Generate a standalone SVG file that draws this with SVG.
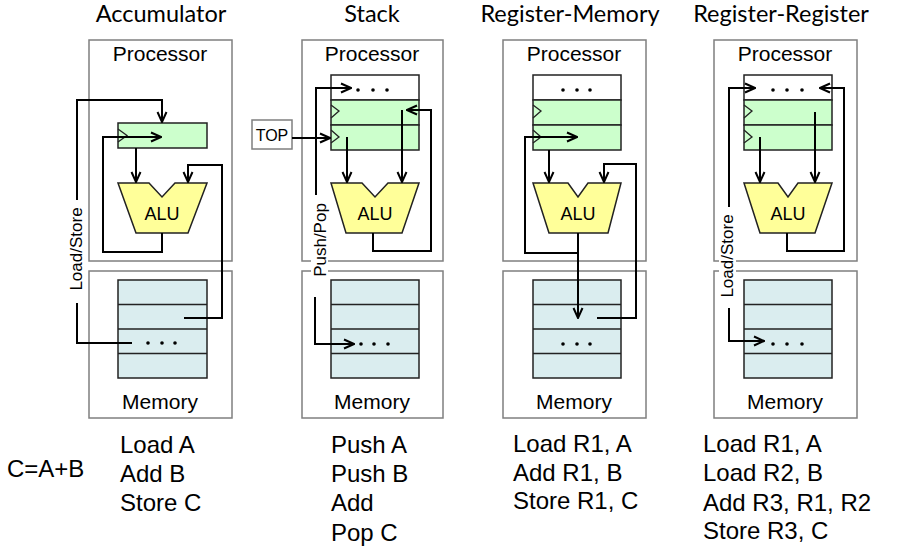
<svg xmlns="http://www.w3.org/2000/svg" width="910" height="553" viewBox="0 0 910 553">
<style>
  .title { font-family: Lato, "Liberation Sans", sans-serif; font-size: 23.5px; fill: #000; text-anchor: middle; }
  .lbl { font-family: "Liberation Sans", Arial, sans-serif; font-size: 21px; fill: #000; text-anchor: middle; }
  .alu-t { font-family: "Liberation Sans", Arial, sans-serif; font-size: 18px; fill: #000; text-anchor: middle; }
  .side { font-family: "Liberation Sans", Arial, sans-serif; font-size: 17px; fill: #000; text-anchor: middle; dominant-baseline: central; }
  .code { font-family: "Liberation Sans", Arial, sans-serif; font-size: 24px; fill: #000; }
  .box { fill: #fff; stroke: #7f7f7f; stroke-width: 1.5; }
  .reg { fill: #ccffcc; stroke: #222; stroke-width: 1.5; }
  .regw { fill: #fff; stroke: #222; stroke-width: 1.5; }
  .mem { fill: #daedef; stroke: #222; stroke-width: 1.5; }
  .sep { stroke: #222; stroke-width: 1.5; fill: none; }
  .clk { stroke: #222; stroke-width: 1.3; fill: none; }
  .alu { fill: #ffff99; stroke: #222; stroke-width: 1.5; }
  .dot { fill: #000; }
  .w { fill: #fff; stroke: none; }
  .c { fill: none; stroke: #000; stroke-width: 2; }
  .ca { fill: none; stroke: #000; stroke-width: 2; marker-end: url(#arr); }
</style>
<defs>
  <marker id="arr" viewBox="0 0 12 12" refX="11" refY="6" markerWidth="12" markerHeight="12" markerUnits="userSpaceOnUse" orient="auto">
    <path d="M1,1.5 L11,6 L1,10.5" fill="none" stroke="#000" stroke-width="2"/>
  </marker>
</defs>
<rect width="910" height="553" fill="#fff"/>

<!-- Titles -->
<g id="titles">
  <text class="title" x="161" y="22">Accumulator</text>
  <text class="title" x="372" y="22">Stack</text>
  <text class="title" x="570" y="22">Register-Memory</text>
  <text class="title" x="781" y="22">Register-Register</text>
</g>

<!-- Column 1: Accumulator -->
<g id="acc-processor">
  <rect class="box" x="89" y="40" width="143" height="221"/>
  <text class="lbl" x="160" y="61">Processor</text>
</g>
<g id="acc-memory">
  <rect class="box" x="89" y="271" width="143" height="147"/>
  <text class="lbl" x="160" y="409">Memory</text>
  <rect class="mem" x="118" y="280" width="89" height="98"/>
  <path class="sep" d="M118,304.5 H207 M118,329 H207 M118,353.5 H207"/>
  <circle class="dot" cx="148" cy="343" r="1.8"/><circle class="dot" cx="162" cy="343" r="1.8"/><circle class="dot" cx="175" cy="343" r="1.8"/>
</g>
<g id="acc-register">
  <rect class="reg" x="118" y="123" width="89" height="25"/>
  <polyline class="clk" points="118,129 127,135.5 118,142"/>
</g>
<g id="acc-alu">
  <polygon class="alu" points="118,183 149,183 162,197 175,183 207,183 188,233 136,233"/>
  <text class="alu-t" x="162" y="220">ALU</text>
</g>

<!-- Column 2: Stack -->
<g id="stack-processor">
  <rect class="box" x="302" y="40" width="141" height="221"/>
  <text class="lbl" x="372" y="61">Processor</text>
</g>
<g id="stack-memory">
  <rect class="box" x="302" y="271" width="141" height="147"/>
  <text class="lbl" x="372" y="409">Memory</text>
  <rect class="mem" x="331" y="280" width="88" height="98"/>
  <path class="sep" d="M331,304.5 H419 M331,329 H419 M331,353.5 H419"/>
  <circle class="dot" cx="361" cy="344" r="1.8"/><circle class="dot" cx="374" cy="344" r="1.8"/><circle class="dot" cx="388" cy="344" r="1.8"/>
</g>
<g id="stack-registers">
  <rect class="regw" x="331" y="75" width="88" height="25"/>
  <rect class="reg" x="331" y="100" width="88" height="25"/>
  <rect class="reg" x="331" y="125" width="88" height="25"/>
  <polyline class="clk" points="331,105 339,111 331,118"/>
  <polyline class="clk" points="331,130 339,137 331,143"/>
  <circle class="dot" cx="358" cy="90" r="1.8"/><circle class="dot" cx="373" cy="90" r="1.8"/><circle class="dot" cx="387" cy="90" r="1.8"/>
</g>
<g id="stack-alu">
  <polygon class="alu" points="331,183 362,183 375,197 388,183 419,183 402,233 346,233"/>
  <text class="alu-t" x="375" y="220">ALU</text>
</g>
<g id="stack-top">
  <rect x="252" y="120" width="40" height="29" fill="#fff" stroke="#7f7f7f" stroke-width="1.5"/>
  <text x="272" y="141" font-family="Liberation Sans, Arial, sans-serif" font-size="16" text-anchor="middle">TOP</text>
</g>

<!-- Column 3: Register-Memory -->
<g id="regmem-processor">
  <rect class="box" x="503" y="40" width="143" height="221"/>
  <text class="lbl" x="574" y="61">Processor</text>
</g>
<g id="regmem-memory">
  <rect class="box" x="503" y="271" width="143" height="147"/>
  <text class="lbl" x="574" y="409">Memory</text>
  <rect class="mem" x="533" y="280" width="88" height="98"/>
  <path class="sep" d="M533,304.5 H621 M533,329 H621 M533,353.5 H621"/>
  <circle class="dot" cx="563" cy="344" r="1.8"/><circle class="dot" cx="577" cy="344" r="1.8"/><circle class="dot" cx="590" cy="344" r="1.8"/>
</g>
<g id="regmem-registers">
  <rect class="regw" x="533" y="75" width="88" height="25"/>
  <rect class="reg" x="533" y="100" width="88" height="25"/>
  <rect class="reg" x="533" y="125" width="88" height="25"/>
  <polyline class="clk" points="533,105 541,111 533,118"/>
  <polyline class="clk" points="533,130 541,137 533,143"/>
  <circle class="dot" cx="563" cy="90" r="1.8"/><circle class="dot" cx="577" cy="90" r="1.8"/><circle class="dot" cx="590" cy="90" r="1.8"/>
</g>
<g id="regmem-alu">
  <polygon class="alu" points="533,183 568,183 578,197 588,183 621,183 608,233 549,233"/>
  <text class="alu-t" x="578" y="220">ALU</text>
</g>

<!-- Column 4: Register-Register -->
<g id="regreg-processor">
  <rect class="box" x="714" y="40" width="143" height="221"/>
  <text class="lbl" x="785" y="61">Processor</text>
</g>
<g id="regreg-memory">
  <rect class="box" x="714" y="271" width="143" height="147"/>
  <text class="lbl" x="785" y="409">Memory</text>
  <rect class="mem" x="744" y="280" width="88" height="98"/>
  <path class="sep" d="M744,304.5 H832 M744,329 H832 M744,353.5 H832"/>
  <circle class="dot" cx="773" cy="344" r="1.8"/><circle class="dot" cx="787" cy="344" r="1.8"/><circle class="dot" cx="802" cy="344" r="1.8"/>
</g>
<g id="regreg-registers">
  <rect class="regw" x="744" y="75" width="88" height="25"/>
  <rect class="reg" x="744" y="100" width="88" height="25"/>
  <rect class="reg" x="744" y="125" width="88" height="25"/>
  <polyline class="clk" points="744,105 752,111 744,118"/>
  <polyline class="clk" points="744,130 752,137 744,143"/>
  <circle class="dot" cx="773" cy="90" r="1.8"/><circle class="dot" cx="787" cy="90" r="1.8"/><circle class="dot" cx="802" cy="90" r="1.8"/>
</g>
<g id="regreg-alu">
  <polygon class="alu" points="744,183 778,183 788,197 798,183 832,183 815,233 760,233"/>
  <text class="alu-t" x="788" y="220">ALU</text>
</g>

<!-- Connectors -->
<g id="connectors">
  <!-- Accumulator -->
  <path class="ca" d="M77,200 V100 H162 V122"/>
  <path class="c" d="M77,303 V343 H132"/>
  <path class="ca" d="M162,233 V252 H103 V137 H161"/>
  <path class="ca" d="M136,148 V182"/>
  <path class="ca" d="M184,318 H222 V165 H188 V182"/>
  <!-- Stack -->
  <path class="ca" d="M316,195 V88 H351"/>
  <path class="ca" d="M315,297 V344 H354"/>
  <path class="ca" d="M292,138 H330"/>
  <path class="ca" d="M347,137 V182"/>
  <path class="ca" d="M402,110 V182"/>
  <path class="ca" d="M373,233 V251 H431 V110 H407"/>
  <!-- Register-Memory -->
  <path class="ca" d="M549,150 V182"/>
  <path class="ca" d="M578,233 V318"/>
  <path class="ca" d="M578,253 H525 V137 H577"/>
  <path class="ca" d="M597,318 H636 V164 H604 V182"/>
  <!-- Register-Register -->
  <path class="ca" d="M729,207 V88 H755"/>
  <path class="ca" d="M729,308 V341 H764"/>
  <path class="ca" d="M760,137 V182"/>
  <path class="ca" d="M815,112 V182"/>
  <path class="ca" d="M787,233 V251 H844 V88 H820"/>
</g>

<!-- Side labels -->
<g id="label-acc-loadstore">
  <rect class="w" x="68" y="203" width="17" height="93"/>
  <text class="side" transform="translate(76,249) rotate(-90)">Load/Store</text>
</g>
<g id="label-stack-pushpop">
  <rect class="w" x="311" y="198" width="17" height="86"/>
  <text class="side" transform="translate(320,240) rotate(-90)">Push/Pop</text>
</g>
<g id="label-regreg-loadstore">
  <rect class="w" x="719" y="210" width="17" height="93"/>
  <text class="side" transform="translate(727,256) rotate(-90)">Load/Store</text>
</g>

<!-- Code -->
<g id="code">
  <text class="code" x="7" y="477">C=A+B</text>
  <text class="code" x="120" y="453">Load A</text>
  <text class="code" x="120" y="482">Add B</text>
  <text class="code" x="120" y="511">Store C</text>
  <text class="code" x="331" y="453">Push A</text>
  <text class="code" x="331" y="482">Push B</text>
  <text class="code" x="331" y="511">Add</text>
  <text class="code" x="331" y="541">Pop C</text>
  <text class="code" x="513" y="452">Load R1, A</text>
  <text class="code" x="513" y="481">Add R1, B</text>
  <text class="code" x="513" y="509">Store R1, C</text>
  <text class="code" x="703" y="452">Load R1, A</text>
  <text class="code" x="703" y="481">Load R2, B</text>
  <text class="code" x="703" y="511">Add R3, R1, R2</text>
  <text class="code" x="703" y="539">Store R3, C</text>
</g>
</svg>
